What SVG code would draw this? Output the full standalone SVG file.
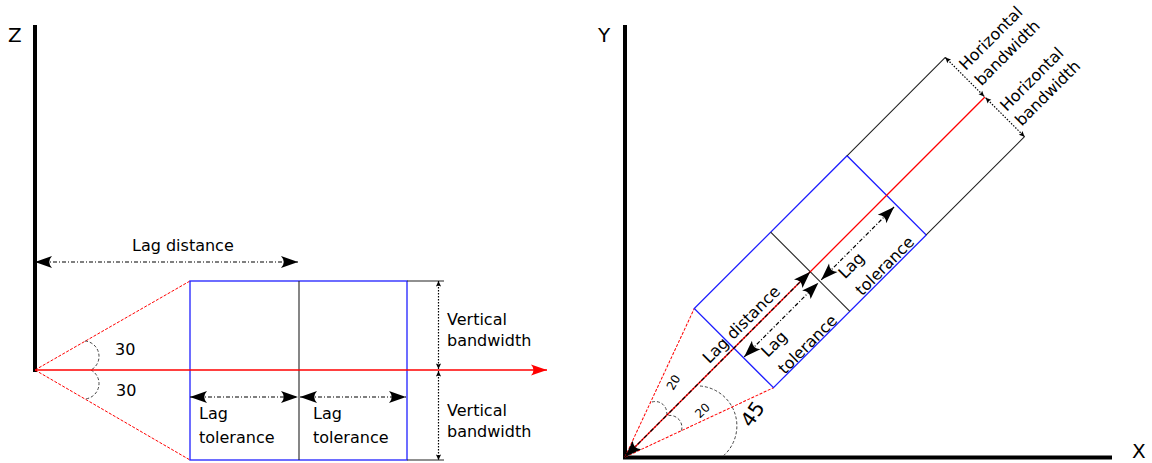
<svg xmlns="http://www.w3.org/2000/svg" width="1152" height="463" viewBox="0 0 1152 463">
<defs>
<style>
text{font-family:"DejaVu Sans","Liberation Sans",sans-serif;font-size:16px;fill:#000}
.ax{stroke:#000;stroke-width:4;fill:none}
.axl{font-size:20px}
.red{stroke:#ff0000;stroke-width:1.3;fill:none}
.rdash{stroke:#ff0000;stroke-width:1;stroke-dasharray:3,1.5;fill:none}
.blue{stroke:#1f1fff;stroke-width:1.3;fill:none}
.blk{stroke:#222;stroke-width:1.1;fill:none}
.dd{stroke:#000;stroke-width:1.2;stroke-dasharray:4,2,1,2;fill:none;marker-start:url(#ah);marker-end:url(#ah)}
.dot{stroke:#000;stroke-width:1.2;stroke-dasharray:1.5,1.5;fill:none;marker-start:url(#sh);marker-end:url(#sh)}
.arc{stroke:#444;stroke-width:1;stroke-dasharray:3,2;fill:none}
</style>
<marker id="ah" viewBox="-18 -7 19 14" refX="0" refY="0" markerWidth="19" markerHeight="14" markerUnits="userSpaceOnUse" orient="auto-start-reverse"><path d="M0,0 L-17,-6 Q-11.5,0 -17,6 Z" fill="#000"/></marker>
<marker id="sh" viewBox="-6 -4 7 8" refX="0" refY="0" markerWidth="7" markerHeight="8" markerUnits="userSpaceOnUse" orient="auto-start-reverse"><path d="M0,0 L-5.5,-2.6 L-4.5,0 L-5.5,2.6 Z" fill="#000"/></marker>
<marker id="rh" viewBox="-18 -7 19 14" refX="0" refY="0" markerWidth="19" markerHeight="14" markerUnits="userSpaceOnUse" orient="auto"><path d="M0,0 L-16,-5.5 Q-11,0 -16,5.5 Z" fill="#ff0000"/></marker>
</defs>
<rect width="1152" height="463" fill="#fff"/>

<!-- LEFT: vertical section -->
<g id="z-axis">
<line class="ax" x1="35" y1="25" x2="35" y2="372"/>
<text class="axl" x="8" y="42">Z</text>
</g>
<g id="left-cone">
<path class="rdash" d="M35,370 L190,281 M35,370 L190,460"/>
<path class="arc" d="M85,341 A15.5,15.5 0 0 1 91,370 M91,370 A15.5,15.5 0 0 1 85,399"/>
<text x="115" y="355">30</text>
<text x="116" y="396">30</text>
</g>
<g id="left-box">
<rect class="blue" x="190" y="281" width="217" height="179"/>
<line class="blk" x1="299" y1="281" x2="299" y2="460"/>
<path class="blk" d="M407,281 H444 M407,460 H444"/>
</g>
<g id="left-labels">
<text x="132" y="251">Lag distance</text>
<text x="199" y="419">Lag</text>
<text x="199" y="443">tolerance</text>
<text x="313" y="419">Lag</text>
<text x="313" y="443">tolerance</text>
<text x="447" y="325">Vertical</text>
<text x="447" y="346">bandwidth</text>
<text x="447" y="416">Vertical</text>
<text x="447" y="437">bandwidth</text>
</g>
<g id="left-connectors">
<path class="red" d="M35,370 H547" marker-end="url(#rh)"/>
<path class="dd" d="M35,262 H298"/>
<path class="dd" d="M190,397 H298"/>
<path class="dd" d="M300,397 H406"/>
<path class="dot" d="M438.5,281 V369"/>
<path class="dot" d="M438.5,371 V460"/>
</g>

<!-- RIGHT: horizontal plan -->
<g id="xy-axes">
<path class="ax" d="M625,25 V457.5 H1112"/>
<text class="axl" x="598" y="42">Y</text>
<text class="axl" x="1132" y="458">X</text>
</g>
<g id="right-angles">
<path class="arc" d="M652,402 A11.5,11.5 0 0 1 666.5,415.5 M668.5,415.5 A12,12 0 0 1 681,432 M700,386 A40,40 0 0 1 722,457"/>
<text text-anchor="middle" transform="translate(673.5,382.5) rotate(-60)" y="4" style="font-size:12px">20</text>
<text text-anchor="middle" transform="translate(702.5,410.5) rotate(-43)" y="4" style="font-size:12px">20</text>
<text text-anchor="middle" transform="translate(752.5,414) rotate(-55)" y="7" style="font-size:20px">45</text>
</g>
<g id="right-box" transform="translate(625,457) rotate(-45)">
<path class="rdash" d="M0,0 L154,-56 M0,0 L154,56"/>
<rect class="blue" x="154" y="-56" width="216" height="112"/>
<line class="blk" x1="262" y1="-56" x2="262" y2="56"/>
<path class="blk" d="M370,-56 H509 M370,56 H509"/>
<text x="125" y="-6">Lag distance</text>
<text x="171" y="31">Lag</text>
<text x="171" y="55">tolerance</text>
<text x="281" y="30">Lag</text>
<text x="281" y="54">tolerance</text>
<text x="514" y="-32">Horizontal</text>
<text x="514" y="-10">bandwidth</text>
<text x="514" y="26">Horizontal</text>
<text x="514" y="47">bandwidth</text>
</g>
<g id="right-connectors" transform="translate(625,457) rotate(-45)">
<path class="red" d="M0,0 H509"/>
<path class="dd" d="M0,0 H262"/>
<path class="dd" d="M155,13.5 H260"/>
<path class="dd" d="M264,13.5 H367"/>
<path class="dot" d="M509,-56 V-1"/>
<path class="dot" d="M509,1 V56"/>
</g>
</svg>
